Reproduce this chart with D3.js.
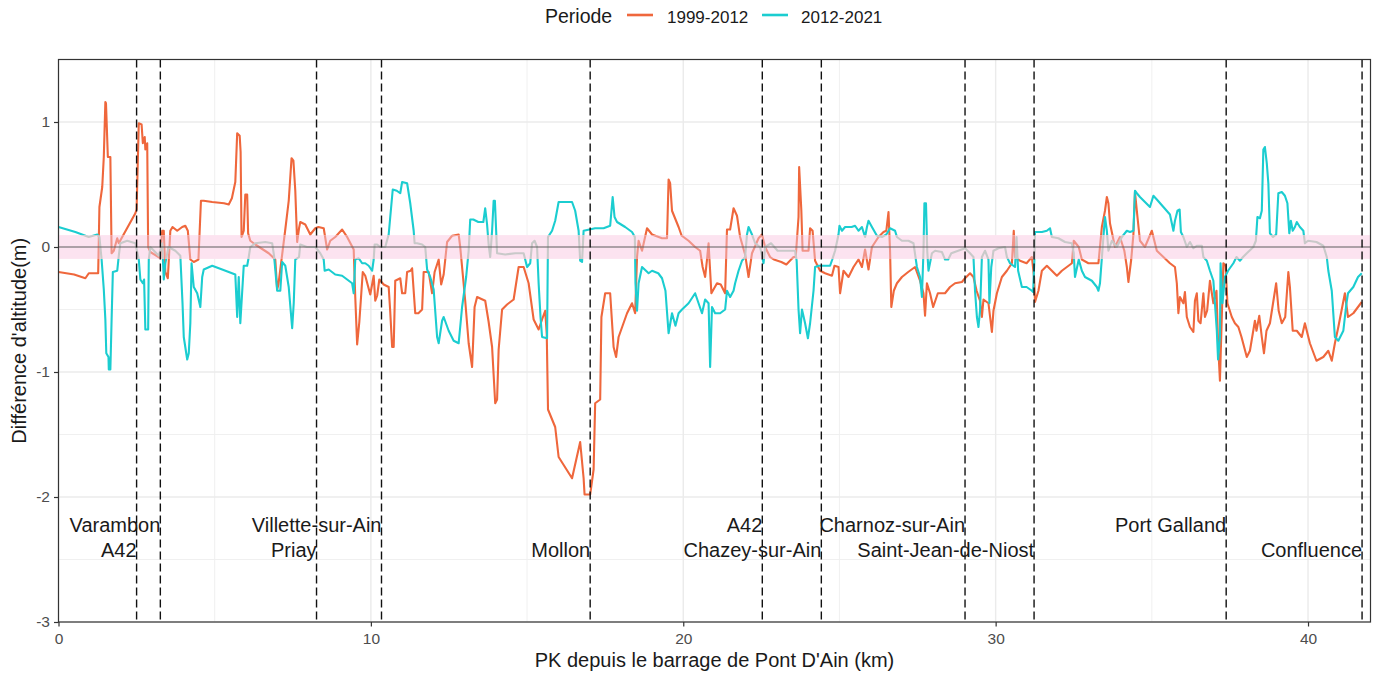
<!DOCTYPE html>
<html>
<head>
<meta charset="utf-8">
<script src="https://cdn.jsdelivr.net/npm/d3@7"></script>
<style>
  html, body { margin: 0; padding: 0; background: #fff; }
  svg { display: block; font-family: "Liberation Sans", Arial, sans-serif; }
</style>
</head>
<body>
<svg id="chart" width="1380" height="677"></svg>
<script>
// ---------------- DATA ----------------
const seriesNames = ["1999-2012", "2012-2021"];

const pk1999 = [0.0,0.5,0.86,0.97,1.27,1.31,1.4,1.45,1.5,1.52,1.58,1.66,1.70,1.77,1.88,1.93,2.04,2.46,2.5,2.57,2.66,2.7,2.76,2.78,2.84,2.87,2.94,3.26,3.32,3.37,3.42,3.5,3.58,3.65,3.8,3.96,4.06,4.14,4.22,4.33,4.48,4.56,4.65,4.92,5.3,5.45,5.55,5.66,5.72,5.8,5.83,5.86,5.93,5.98,6.04,6.07,6.14,6.3,6.73,6.94,7.0,7.04,7.16,7.26,7.37,7.46,7.52,7.58,7.64,7.7,7.74,7.9,8.06,8.22,8.32,8.49,8.6,8.7,8.86,9.08,9.24,9.45,9.5,9.56,9.63,9.74,9.82,9.98,10.09,10.14,10.2,10.27,10.41,10.57,10.62,10.68,10.73,10.78,10.94,11.0,11.1,11.16,11.27,11.32,11.42,11.52,11.64,11.69,11.85,11.96,12.04,12.17,12.25,12.33,12.44,12.6,12.81,12.86,13.02,13.13,13.24,13.32,13.4,13.66,13.77,13.88,13.98,14.04,14.09,14.2,14.36,14.57,14.73,14.89,15.05,15.21,15.37,15.48,15.58,15.63,15.67,15.9,16.01,16.44,16.7,16.81,16.84,17.02,17.13,17.18,17.34,17.38,17.5,17.66,17.77,17.85,17.93,18.2,18.36,18.46,18.52,18.57,18.68,18.84,19.0,19.32,19.48,19.53,19.58,19.64,19.85,19.95,20.17,20.38,20.54,20.62,20.7,20.76,20.81,20.9,21.08,21.2,21.34,21.4,21.5,21.61,21.72,21.82,21.98,22.09,22.2,22.41,22.52,22.62,22.78,22.9,23.14,23.3,23.53,23.6,23.69,23.71,23.78,23.82,24.01,24.06,24.14,24.22,24.38,24.54,24.76,24.84,24.97,25.02,25.13,25.29,25.45,25.61,25.72,25.82,25.93,26.04,26.25,26.41,26.5,26.57,26.62,26.66,26.74,26.84,27.0,27.2,27.42,27.58,27.69,27.74,27.8,27.9,28.0,28.15,28.38,28.54,28.7,28.92,29.02,29.18,29.29,29.39,29.5,29.56,29.61,29.77,29.88,29.93,30.04,30.2,30.36,30.52,30.58,30.62,30.78,30.99,31.16,31.23,31.26,31.37,31.48,31.64,31.8,31.96,32.12,32.28,32.44,32.5,32.66,32.76,32.97,33.29,33.4,33.5,33.56,33.61,33.66,33.82,33.98,34.12,34.2,34.25,34.34,34.41,34.46,34.54,34.62,34.78,35.0,35.16,35.37,35.58,35.74,35.8,35.85,35.9,36.01,36.06,36.12,36.22,36.33,36.38,36.44,36.49,36.56,36.65,36.7,36.77,36.86,36.97,37.07,37.12,37.18,37.23,37.29,37.36,37.42,37.56,37.66,37.77,37.87,38.04,38.14,38.3,38.35,38.44,38.52,38.59,38.67,38.78,38.88,38.98,39.06,39.16,39.27,39.37,39.42,39.51,39.64,39.8,39.9,40.06,40.27,40.49,40.65,40.76,40.86,40.97,41.18,41.28,41.45,41.6,41.72];
const diff1999 = [-0.2,-0.22,-0.25,-0.21,-0.21,0.32,0.48,0.72,1.16,1.15,0.72,0.72,-0.05,-0.03,0.07,0.03,0.08,0.27,0.30,0.99,0.98,0.83,0.88,0.78,0.83,0.0,-0.04,-0.09,0.13,0.13,-0.2,-0.25,0.13,0.16,0.13,0.16,0.17,0.13,-0.1,-0.12,-0.1,0.37,0.37,0.36,0.35,0.34,0.39,0.52,0.91,0.89,0.76,0.08,0.13,0.42,0.42,0.11,0.05,0.02,-0.05,-0.1,-0.34,-0.3,-0.06,0.14,0.37,0.71,0.69,0.45,0.04,0.15,0.2,0.18,0.1,0.15,0.16,0.15,-0.02,0.05,0.08,0.14,0.08,-0.02,-0.4,-0.78,-0.6,-0.2,-0.23,-0.38,-0.23,-0.43,-0.39,-0.26,-0.3,-0.32,-0.52,-0.8,-0.8,-0.27,-0.25,-0.37,-0.37,-0.2,-0.19,-0.17,-0.53,-0.53,-0.5,-0.2,-0.2,-0.37,-0.2,-0.1,-0.3,-0.22,0.04,0.09,0.1,0.0,-0.43,-0.77,-0.96,-0.48,-0.4,-0.43,-0.6,-0.8,-1.25,-1.22,-0.82,-0.5,-0.46,-0.42,-0.16,-0.16,-0.29,-0.58,-0.66,-0.58,-0.51,-0.7,-1.3,-1.44,-1.68,-1.85,-1.56,-1.85,-1.98,-1.98,-1.78,-1.25,-1.22,-0.56,-0.37,-0.37,-0.8,-0.88,-0.72,-0.53,-0.45,-0.53,-0.08,0.05,-0.03,0.15,0.1,0.07,0.07,0.54,0.51,0.29,0.16,0.09,0.05,0.0,-0.03,-0.16,-0.24,-0.1,0.03,-0.37,-0.29,-0.3,-0.37,0.14,0.14,0.31,0.25,0.08,-0.06,-0.24,-0.05,0.07,0.1,0.0,-0.08,-0.1,-0.12,-0.14,-0.08,-0.08,0.24,0.64,0.29,-0.03,-0.03,0.15,0.13,-0.11,-0.19,-0.21,-0.23,-0.15,-0.16,-0.37,-0.19,-0.24,-0.16,-0.1,-0.16,-0.02,-0.18,0.0,0.08,0.12,0.13,0.28,-0.03,-0.48,-0.35,-0.29,-0.24,-0.2,-0.16,-0.27,-0.37,-0.55,-0.29,-0.37,-0.48,-0.37,-0.37,-0.32,-0.29,-0.28,-0.25,-0.21,-0.24,-0.35,-0.43,-0.56,-0.42,-0.45,-0.68,-0.51,-0.37,-0.24,-0.19,-0.13,0.13,-0.08,-0.11,-0.13,-0.08,-0.24,-0.44,-0.35,-0.19,-0.15,-0.19,-0.23,-0.19,-0.16,-0.13,0.05,0.0,-0.1,-0.13,-0.13,0.16,0.29,0.4,0.35,0.19,0.0,0.08,-0.03,-0.16,-0.28,-0.1,0.1,0.44,0.24,0.05,0.0,0.13,-0.03,-0.08,-0.13,-0.16,-0.29,-0.53,-0.4,-0.45,-0.36,-0.56,-0.64,-0.68,-0.43,-0.37,-0.59,-0.61,-0.37,-0.56,-0.51,-0.27,-0.45,-0.35,-0.77,-1.07,-0.64,-0.13,-0.15,-0.45,-0.56,-0.61,-0.64,-0.72,-0.88,-0.83,-0.59,-0.67,-0.55,-0.72,-0.85,-0.67,-0.61,-0.45,-0.29,-0.51,-0.61,-0.56,-0.2,-0.32,-0.67,-0.67,-0.72,-0.61,-0.77,-0.91,-0.88,-0.83,-0.91,-0.77,-0.64,-0.37,-0.56,-0.53,-0.48,-0.44];

const pk2012 = [0.0,0.54,0.97,1.24,1.31,1.38,1.45,1.5,1.53,1.6,1.61,1.66,1.70,1.74,1.88,1.93,1.98,2.2,2.46,2.57,2.62,2.7,2.74,2.78,2.87,2.89,2.94,3.21,3.32,3.37,3.42,3.52,3.74,3.9,3.97,4.01,4.12,4.17,4.22,4.26,4.33,4.44,4.54,4.6,4.65,4.92,5.24,5.66,5.72,5.77,5.82,5.93,6.04,6.09,6.14,6.3,6.62,6.84,6.9,7.0,7.1,7.16,7.26,7.37,7.48,7.53,7.58,7.7,7.74,7.95,8.22,8.38,8.49,8.52,8.65,8.86,9.08,9.24,9.4,9.45,9.5,9.61,9.72,9.82,9.93,10.04,10.09,10.12,10.2,10.3,10.46,10.57,10.62,10.7,10.83,10.94,11.0,11.16,11.26,11.37,11.4,11.48,11.64,11.74,11.8,11.9,12.01,12.12,12.17,12.28,12.33,12.49,12.65,12.81,12.92,13.05,13.13,13.18,13.28,13.44,13.6,13.66,13.72,13.77,13.82,13.88,13.93,13.97,14.04,14.3,14.62,14.89,15.0,15.1,15.16,15.24,15.32,15.37,15.43,15.48,15.64,15.67,15.8,15.9,16.01,16.44,16.54,16.65,16.7,16.76,16.81,17.18,17.45,17.66,17.74,17.8,17.88,18.14,18.36,18.45,18.47,18.52,18.57,18.68,18.89,19.0,19.2,19.32,19.43,19.53,19.64,19.75,19.85,19.96,20.17,20.38,20.49,20.6,20.7,20.81,20.86,20.92,21.02,21.18,21.34,21.4,21.5,21.61,21.66,21.77,21.88,21.98,22.04,22.09,22.2,22.3,22.46,22.57,22.62,22.81,23.02,23.58,23.63,23.69,23.74,23.8,23.9,23.99,24.06,24.17,24.22,24.33,24.7,24.77,24.86,24.97,25.0,25.08,25.18,25.39,25.5,25.61,25.72,25.82,25.88,25.93,26.04,26.2,26.36,26.5,26.62,26.78,26.84,27.0,27.21,27.37,27.48,27.58,27.64,27.69,27.72,27.77,27.81,27.85,27.96,28.06,28.28,28.38,28.48,28.58,28.8,29.02,29.18,29.29,29.34,29.4,29.45,29.5,29.56,29.66,29.77,29.8,29.86,29.93,30.09,30.3,30.36,30.46,30.62,30.67,30.72,30.84,30.99,31.16,31.2,31.24,31.26,31.48,31.64,31.74,31.8,32.01,32.22,32.44,32.5,32.54,32.66,32.76,32.86,33.08,33.24,33.29,33.34,33.45,33.5,33.56,33.61,33.72,33.88,34.04,34.2,34.3,34.41,34.46,34.52,34.62,34.78,34.94,35.05,35.16,35.37,35.58,35.69,35.74,35.82,35.89,35.93,36.01,36.12,36.22,36.33,36.44,36.6,36.65,36.76,36.86,36.97,37.02,37.08,37.12,37.18,37.2,37.26,37.34,37.44,37.61,37.71,37.82,37.92,38.04,38.25,38.33,38.38,38.46,38.52,38.57,38.62,38.68,38.73,38.78,38.88,38.98,39.05,39.16,39.26,39.34,39.4,39.45,39.51,39.58,39.64,39.74,39.85,39.9,40.0,40.27,40.49,40.6,40.65,40.76,40.86,40.97,41.13,41.23,41.28,41.45,41.6,41.72];
const diff2012 = [0.16,0.12,0.08,0.1,0.08,-0.1,-0.34,-0.58,-0.85,-0.88,-0.98,-0.98,-0.58,-0.2,-0.19,-0.07,0.03,0.05,0.03,-0.1,-0.26,-0.29,-0.26,-0.66,-0.66,-0.1,0.0,-0.07,0.03,-0.26,-0.13,0.0,-0.03,-0.07,-0.45,-0.72,-0.9,-0.85,-0.61,-0.13,-0.32,-0.37,-0.48,-0.24,-0.18,-0.15,-0.18,-0.22,-0.56,-0.24,-0.61,-0.15,-0.15,-0.08,0.0,0.03,0.04,0.03,-0.07,-0.35,-0.35,-0.12,-0.15,-0.32,-0.65,-0.45,-0.1,-0.08,0.02,0.0,0.0,-0.05,-0.1,-0.19,-0.18,-0.22,-0.23,-0.26,-0.29,-0.37,-0.1,-0.09,-0.13,-0.13,-0.15,-0.19,-0.1,0.02,0.02,0.0,0.0,0.1,0.24,0.46,0.45,0.43,0.52,0.51,0.35,0.13,0.03,0.03,0.02,0.0,-0.18,-0.24,-0.34,-0.72,-0.77,-0.59,-0.56,-0.67,-0.75,-0.77,-0.48,-0.24,-0.03,0.22,0.22,0.2,0.2,0.31,0.18,0.02,-0.08,0.13,0.37,0.37,-0.05,-0.06,-0.05,-0.05,-0.16,-0.13,0.03,0.05,0.0,-0.29,-0.56,-0.72,-0.73,0.08,0.13,0.21,0.36,0.36,0.29,0.13,-0.11,-0.12,0.13,0.15,0.15,0.17,0.4,0.24,0.2,0.16,0.12,0.08,-0.29,-0.51,-0.29,-0.16,-0.21,-0.19,-0.21,-0.25,-0.35,-0.69,-0.53,-0.63,-0.53,-0.5,-0.45,-0.37,-0.45,-0.53,-0.42,-0.45,-0.96,-0.48,-0.53,-0.53,-0.5,-0.35,-0.4,-0.35,-0.29,-0.19,-0.11,-0.08,0.1,0.16,0.1,0.03,0.0,-0.13,0.0,0.03,-0.03,-0.03,-0.11,-0.5,-0.69,-0.5,-0.61,-0.73,-0.61,-0.35,-0.16,-0.15,-0.15,-0.1,-0.03,0.1,0.17,0.13,0.16,0.16,0.17,0.13,0.16,0.08,0.16,0.21,0.16,0.09,0.08,0.1,0.15,0.13,0.08,0.05,0.05,0.03,-0.16,-0.24,-0.4,-0.03,0.35,0.35,-0.03,-0.19,-0.05,-0.03,-0.04,-0.1,-0.1,-0.05,-0.03,-0.01,-0.05,-0.08,-0.35,-0.56,-0.64,-0.51,-0.08,-0.03,-0.1,-0.45,-0.16,-0.03,-0.01,0.0,-0.08,-0.13,-0.16,0.08,-0.19,-0.32,-0.32,-0.35,-0.36,-0.1,0.12,0.12,0.13,0.15,0.08,0.07,0.04,0.03,-0.05,-0.24,-0.1,-0.19,-0.24,-0.27,-0.32,-0.35,-0.29,0.08,0.24,0.13,-0.03,0.05,0.0,0.08,0.13,0.12,0.13,0.45,0.43,0.4,0.36,0.32,0.41,0.38,0.32,0.26,0.13,0.21,0.29,0.3,0.12,0.08,0.0,0.04,-0.01,0.01,0.01,-0.08,-0.11,-0.19,-0.27,-0.45,-0.67,-0.9,-0.72,-0.13,-0.45,-0.24,-0.19,-0.13,-0.08,-0.11,-0.08,-0.05,0.0,0.05,0.24,0.23,0.29,0.78,0.8,0.67,0.51,0.11,0.08,0.1,0.43,0.44,0.41,0.35,0.11,0.21,0.13,0.16,0.2,0.16,0.13,0.03,0.05,0.04,0.01,-0.08,-0.19,-0.35,-0.72,-0.75,-0.67,-0.45,-0.37,-0.32,-0.24,-0.21];

// reference lines (bridges / places) : km, label, label row
const refKm    = [2.5, 3.26, 8.26, 10.34, 17.02, 22.53, 24.42, 29.02, 31.23, 37.38, 41.73];
const refLabel = ["A42", "Varambon", "Priay", "Villette-sur-Ain", "Mollon", "A42", "Chazey-sur-Ain", "Charnoz-sur-Ain", "Saint-Jean-de-Niost", "Port Galland", "Confluence"];
const refRow   = [2, 1, 2, 1, 2, 1, 2, 1, 2, 1, 2];
const rowLevel = [-2.2, -2.4];

const xTicks = [0, 10, 20, 30, 40];
const xMinor = [5, 15, 25, 35];
const yTicks = [-3, -2, -1, 0, 1];
const yMinor = [-2.5, -1.5, -0.5, 0.5];
const bandHalf = 0.095;

// ---------------- CHART ----------------
const svg = d3.select("#chart");
const pL = 58.5, pR = 1370.5, pT = 59.5, pB = 622;
const x = d3.scaleLinear().domain([0, 42]).range([pL, pR]);
const y = d3.scaleLinear().domain([-3, 1.5]).range([pB, pT]);

const colors = ["#EF673C", "#1BCDD0"];
const orangeIn = "#F19489";
const greyIn = "#C9C9C9";

// grid
const grid = svg.append("g");
grid.selectAll(".gxm").data(xMinor).join("line")
  .attr("x1", d => x(d)).attr("x2", d => x(d)).attr("y1", pT).attr("y2", pB)
  .attr("stroke", "#EEEEEE").attr("stroke-width", 0.9);
grid.selectAll(".gym").data(yMinor).join("line")
  .attr("y1", d => y(d)).attr("y2", d => y(d)).attr("x1", pL).attr("x2", pR)
  .attr("stroke", "#EEEEEE").attr("stroke-width", 0.9);
grid.selectAll(".gx").data(xTicks).join("line")
  .attr("x1", d => x(d)).attr("x2", d => x(d)).attr("y1", pT).attr("y2", pB)
  .attr("stroke", "#EBEBEB").attr("stroke-width", 1.4);
grid.selectAll(".gy").data(yTicks).join("line")
  .attr("y1", d => y(d)).attr("y2", d => y(d)).attr("x1", pL).attr("x2", pR)
  .attr("stroke", "#EBEBEB").attr("stroke-width", 1.4);

// pink band (under the lines)
svg.append("rect")
  .attr("x", pL).attr("width", pR - pL)
  .attr("y", y(bandHalf)).attr("height", y(-bandHalf) - y(bandHalf))
  .attr("fill", "#FCE3F0");

// clip paths
const defs = svg.append("defs");
defs.append("clipPath").attr("id", "panel").append("rect")
  .attr("x", pL).attr("y", pT).attr("width", pR - pL).attr("height", pB - pT);
const outClip = defs.append("clipPath").attr("id", "outBand");
outClip.append("rect").attr("x", pL).attr("y", pT).attr("width", pR - pL).attr("height", y(bandHalf) - pT);
outClip.append("rect").attr("x", pL).attr("y", y(-bandHalf)).attr("width", pR - pL).attr("height", pB - y(-bandHalf));
defs.append("clipPath").attr("id", "inBand").append("rect")
  .attr("x", pL).attr("y", y(bandHalf)).attr("width", pR - pL).attr("height", y(-bandHalf) - y(bandHalf));

const line = d3.line().x(d => x(d[0])).y(d => y(d[1]));
const s1 = pk1999.map((k, i) => [k, diff1999[i]]);
const s2 = pk2012.map((k, i) => [k, diff2012[i]]);

const lines = svg.append("g").attr("clip-path", "url(#panel)")
  .attr("fill", "none").attr("stroke-width", 2.1).attr("stroke-linejoin", "round");
lines.append("g").attr("clip-path", "url(#outBand)").append("path").attr("d", line(s1)).attr("stroke", colors[0]);
lines.append("g").attr("clip-path", "url(#inBand)").append("path").attr("d", line(s1)).attr("stroke", orangeIn);
lines.append("g").attr("clip-path", "url(#outBand)").append("path").attr("d", line(s2)).attr("stroke", colors[1]);
lines.append("g").attr("clip-path", "url(#inBand)").append("path").attr("d", line(s2)).attr("stroke", greyIn);

// zero line
svg.append("line").attr("x1", pL).attr("x2", pR).attr("y1", y(0)).attr("y2", y(0))
  .attr("stroke", "#5E5E5E").attr("stroke-width", 1.2);

// dashed reference lines
svg.append("g").selectAll("line").data(refKm).join("line")
  .attr("x1", d => x(d)).attr("x2", d => x(d)).attr("y1", pT).attr("y2", pB)
  .attr("stroke", "#111").attr("stroke-width", 1.4).attr("stroke-dasharray", "8,4");

// labels
svg.append("g").selectAll("text").data(refLabel).join("text")
  .attr("x", (d, i) => x(refKm[i]))
  .attr("y", (d, i) => y(rowLevel[refRow[i] - 1]) + 10)
  .attr("text-anchor", "end")
  .attr("font-size", 20).attr("fill", "#1A1A1A")
  .text(d => d);

// panel border
svg.append("rect").attr("x", pL).attr("y", pT).attr("width", pR - pL).attr("height", pB - pT)
  .attr("fill", "none").attr("stroke", "#333").attr("stroke-width", 1.2);

// axes
const xAxis = svg.append("g").attr("transform", `translate(0,${pB})`)
  .call(d3.axisBottom(x).tickValues(xTicks).tickSize(4.5).tickPadding(6).tickFormat(d => String(d)));
const yAxis = svg.append("g").attr("transform", `translate(${pL},0)`)
  .call(d3.axisLeft(y).tickValues(yTicks).tickSize(4.5).tickPadding(4).tickFormat(d => String(d)));
[xAxis, yAxis].forEach(a => {
  a.attr("font-size", 15.5).attr("font-family", "Liberation Sans, Arial, sans-serif");
  a.select(".domain").remove();
  a.selectAll(".tick line").attr("stroke", "#333").attr("stroke-width", 1.2);
  a.selectAll(".tick text").attr("fill", "#4D4D4D");
});

// axis titles
svg.append("text").attr("x", (pL + pR) / 2).attr("y", 667)
  .attr("text-anchor", "middle").attr("font-size", 20).attr("fill", "#1A1A1A")
  .text("PK depuis le barrage de Pont D'Ain (km)");
svg.append("text").attr("transform", `translate(25.5,${(pT + pB) / 2}) rotate(-90)`)
  .attr("text-anchor", "middle").attr("font-size", 20).attr("fill", "#1A1A1A")
  .text("Différence d'altitude(m)");

// legend
const lg = svg.append("g");
lg.append("text").attr("x", 545).attr("y", 23).attr("font-size", 19.5).attr("fill", "#1A1A1A").text("Periode");
const keyX = [627, 762], labX = [667, 801];
seriesNames.forEach((n, i) => {
  lg.append("line").attr("x1", keyX[i]).attr("x2", keyX[i] + 26).attr("y1", 15).attr("y2", 15)
    .attr("stroke", colors[i]).attr("stroke-width", 2.6);
  lg.append("text").attr("x", labX[i]).attr("y", 22.5).attr("font-size", 17).attr("fill", "#1A1A1A").text(n);
});
</script>
</body>
</html>
